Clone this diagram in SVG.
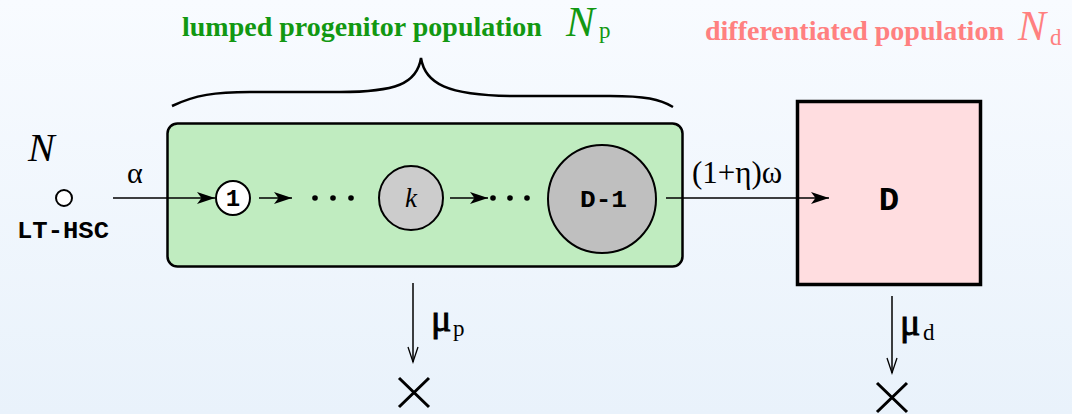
<svg xmlns="http://www.w3.org/2000/svg" width="1072" height="414" viewBox="0 0 1072 414">
<defs>
<linearGradient id="bg" x1="0" y1="0" x2="0" y2="1">
<stop offset="0" stop-color="#f8fbff"/>
<stop offset="1" stop-color="#e9f2fb"/>
</linearGradient>
<marker id="ah" markerUnits="userSpaceOnUse" markerWidth="19" markerHeight="13" refX="18" refY="6.5" orient="auto">
<path d="M0,0.5 L18,6.5 L0,12.5 L4.5,6.5 Z" fill="#000"/>
</marker>
<marker id="open" markerUnits="userSpaceOnUse" markerWidth="14" markerHeight="18" refX="6" refY="16" orient="0">
<path d="M1,1 L6,16 L11,1" fill="none" stroke="#000" stroke-width="1.3"/>
</marker>
</defs>
<style>
.serif{font-family:"Liberation Serif","Times New Roman",serif}
.mono{font-family:"Liberation Mono","Courier New",monospace;font-weight:bold}
.edge{stroke:#000;stroke-width:1.5;fill:none}
.cross{stroke:#000;stroke-width:3;fill:none}
.green{fill:#129812}
.pink{fill:#ff8080}
.mu{stroke:#000;stroke-width:0.9}
</style>
<rect x="0" y="0" width="1072" height="414" fill="url(#bg)"/>

<g id="labels">
<text class="serif green" x="182" y="36" font-size="28" font-weight="bold">lumped progenitor population</text>
<text class="serif green" x="566" y="36" font-size="43" font-style="italic">N</text>
<text class="serif green" x="599" y="38" font-size="23">p</text>
<text class="serif pink" x="705" y="40" font-size="28" font-weight="bold">differentiated population</text>
<text class="serif pink" x="1018" y="40" font-size="42" font-style="italic">N</text>
<text class="serif pink" x="1050" y="45" font-size="23">d</text>
<path id="brace" d="M172,106 C195,95 215,92 250,92 L340,92 C395,92 417,84 421,58 C425,84 448,95 510,96 L610,96 C645,96 660,99 673,107" fill="none" stroke="#000" stroke-width="2.5"/>
<text class="serif" x="28" y="161" font-size="40" font-style="italic">N</text>
<text class="serif" x="127" y="183" font-size="30">α</text>
<text class="serif" x="692" y="183" font-size="31">(1+η)ω</text>
<text class="serif mu" x="431" y="331" font-size="38">μ</text>
<text class="serif" x="453" y="336" font-size="23">p</text>
<text class="serif mu" x="900" y="335" font-size="38">μ</text>
<text class="serif" x="923" y="340" font-size="23">d</text>
</g>

<g id="lt-hsc">
<circle cx="64" cy="198" r="8" fill="#fff" stroke="#000" stroke-width="2"/>
<text class="mono" x="17" y="238" font-size="24" textLength="92" lengthAdjust="spacingAndGlyphs">LT-HSC</text>
</g>

<g id="progenitor-box">
<rect x="167.5" y="123.5" width="515" height="143" rx="10" ry="10" fill="#c0ecc0" stroke="#000" stroke-width="2.5"/>
</g>

<g id="node-1">
<circle cx="233" cy="198" r="17" fill="#fff" stroke="#000" stroke-width="2"/>
<text class="mono" x="233" y="206" font-size="24" text-anchor="middle">1</text>
</g>

<g id="dots-1">
<circle cx="315" cy="198" r="2.8" fill="#000"/>
<circle cx="333" cy="198" r="2.8" fill="#000"/>
<circle cx="351" cy="198" r="2.8" fill="#000"/>
</g>

<g id="node-k">
<circle cx="411" cy="198" r="32" fill="#cccccc" stroke="#000" stroke-width="2"/>
<text class="serif" x="411" y="207" font-size="27" font-style="italic" text-anchor="middle">k</text>
</g>

<g id="dots-2">
<circle cx="493" cy="198" r="2.8" fill="#000"/>
<circle cx="510" cy="198" r="2.8" fill="#000"/>
<circle cx="527" cy="198" r="2.8" fill="#000"/>
</g>

<g id="node-D-1">
<circle cx="602" cy="199" r="54" fill="#bfbfbf" stroke="#000" stroke-width="2"/>
<text class="mono" x="580" y="207" font-size="24" textLength="47" lengthAdjust="spacingAndGlyphs">D-1</text>
</g>

<g id="node-D">
<rect x="797.5" y="101.5" width="183" height="183" fill="#ffdde0" stroke="#000" stroke-width="3.5"/>
<text class="mono" x="889" y="210" font-size="34" text-anchor="middle">D</text>
</g>

<g id="sinks">
<path class="cross" d="M399,378 L429,407 M429,378 L399,407"/>
<path class="cross" d="M877,383 L907,412 M907,383 L877,412"/>
</g>

<g id="connectors">
<line class="edge" x1="113" y1="198" x2="215" y2="198" marker-end="url(#ah)"/>
<line class="edge" x1="259" y1="198" x2="292" y2="198" marker-end="url(#ah)"/>
<line class="edge" x1="450" y1="198" x2="488" y2="198" marker-end="url(#ah)"/>
<line class="edge" x1="666" y1="198" x2="829" y2="198" marker-end="url(#ah)"/>
<line class="edge" x1="413" y1="283" x2="413" y2="362" stroke-width="1.2" marker-end="url(#open)"/>
<line class="edge" x1="892" y1="296" x2="892" y2="373" stroke-width="1.2" marker-end="url(#open)"/>
</g>
</svg>
